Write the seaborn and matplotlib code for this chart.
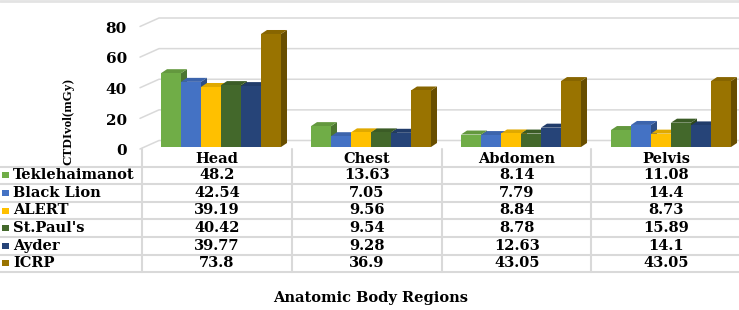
import numpy as np
import pandas as pd
import matplotlib
matplotlib.use("Agg")
import matplotlib.pyplot as plt
import matplotlib.transforms as mtransforms
from matplotlib.patches import Polygon, Rectangle
from matplotlib.lines import Line2D
import seaborn as sns

# --- data ---
regions = ["Head", "Chest", "Abdomen", "Pelvis"]
hospitals = ["Teklehaimanot", "Black Lion", "ALERT", "St.Paul's", "Ayder", "ICRP"]
teklehaimanot = [48.2, 13.63, 8.14, 11.08]
black_lion = [42.54, 7.05, 7.79, 14.4]
alert = [39.19, 9.56, 8.84, 8.73]
st_pauls = [40.42, 9.54, 8.78, 15.89]
ayder = [39.77, 9.28, 12.63, 14.1]
icrp = [73.8, 36.9, 43.05, 43.05]
y_ticks = [0, 20, 40, 60, 80]

colors = ["#70AD47", "#4472C4", "#FFC000", "#43682B", "#264478", "#997300"]
series = [teklehaimanot, black_lion, alert, st_pauls, ayder, icrp]

df = pd.DataFrame(
    [(h, r, v) for h, vals in zip(hospitals, series) for r, v in zip(regions, vals)],
    columns=["hospital", "region", "value"],
)

W, H = 739, 310
GRID = "#d9d9d9"

sns.set_theme(style="white")
plt.rcParams["font.family"] = ["DejaVu Serif"]
plt.rcParams["font.weight"] = "bold"
plt.rcParams["text.color"] = "black"
plt.rcParams["ytick.color"] = "black"
plt.rcParams["ytick.labelcolor"] = "black"
FS = 10.5

fig = plt.figure(figsize=(W / 100, H / 100), dpi=100)


def fx(x):
    return x / W


def fy(y):
    return 1 - y / H


ax = fig.add_axes([fx(146), fy(147), 600 / W, (147 - 24.5) / H])

sns.barplot(
    data=df, x="region", y="value", hue="hospital",
    order=regions, hue_order=hospitals, palette=colors,
    saturation=1, width=0.8, linewidth=0, legend=False, ax=ax,
)
ax.set_xlim(-0.5, 3.5)
ax.set_ylim(0, 80)
for s in ax.spines.values():
    s.set_visible(False)
ax.set_xticks([])
ax.set_xlabel("")
ax.set_ylabel("")
ax.set_yticks(y_ticks)
ax.set_yticklabels([str(t) for t in y_ticks], fontsize=FS + 0.5, fontweight="bold", color="black")
ax.tick_params(axis="y", length=0, pad=13.7)
shift = mtransforms.ScaledTranslation(0, -2 / 72, fig.dpi_scale_trans)
for lab in ax.get_yticklabels():
    lab.set_transform(lab.get_transform() + shift)
ax.grid(False)

inv = ax.transData.inverted()

# 3D-ish gridlines: short slanted floor segment then the back wall line
for v in y_ticks:
    yd = ax.transData.transform((0, v))[1]
    pts = np.array([[140, yd - 2], [159, yd + 6.5], [W + 5, yd + 6.5]])
    d = inv.transform(pts)
    ax.plot(d[:, 0], d[:, 1], color=GRID, lw=1.1, zorder=0.5, clip_on=False)

# depth faces on every bar
dx, dy = 6, 4
bars = sorted([p for p in ax.patches if isinstance(p, Rectangle)], key=lambda p: p.get_x())
for k, p in enumerate(bars):
    z = 3 + k * 0.1
    p.set_zorder(z)
    c = np.array(matplotlib.colors.to_rgb(p.get_facecolor()))
    x0, y0 = p.get_x(), p.get_y()
    x1, y1 = x0 + p.get_width(), y0 + p.get_height()
    (X0, Y0), (X1, Y1) = ax.transData.transform([(x0, y0), (x1, y1)])
    side = inv.transform([(X1, Y0), (X1 + dx, Y0 + dy), (X1 + dx, Y1 + dy), (X1, Y1)])
    top = inv.transform([(X0, Y1), (X0 + dx, Y1 + dy), (X1 + dx, Y1 + dy), (X1, Y1)])
    ax.add_patch(Polygon(side, closed=True, facecolor=c * 0.68, lw=0, zorder=z - 0.05, clip_on=False))
    ax.add_patch(Polygon(top, closed=True, facecolor=c * 0.88, lw=0, zorder=z - 0.05, clip_on=False))

# top border
fig.add_artist(Line2D([0, 1], [fy(1), fy(1)], color="#e3e3e3", lw=2, transform=fig.transFigure))

# --- data table below the bars ---
col_left = [142, 292, 442, 591]
row_line0, row_h = 166.5, 17.6
for x in col_left:
    fig.add_artist(Line2D([fx(x), fx(x)], [fy(149), fy(row_line0 + 6 * row_h)],
                          color=GRID, lw=1.5, transform=fig.transFigure))
for k in range(7):
    y = row_line0 + k * row_h
    fig.add_artist(Line2D([0, 1], [fy(y), fy(y)], color=GRID, lw=1.5, transform=fig.transFigure))

for x, r in zip(col_left, regions):
    fig.text(fx(x + 75), fy(159), r, ha="center", va="center", fontsize=FS, fontweight="bold")

for i, (h, vals, c) in enumerate(zip(hospitals, series, colors)):
    yc = row_line0 + (i + 0.5) * row_h
    fig.add_artist(Rectangle((fx(2), fy(yc + 3)), 7 / W, 6 / H, facecolor=c, lw=0,
                             transform=fig.transFigure))
    fig.text(fx(13), fy(yc), h, ha="left", va="center", fontsize=FS, fontweight="bold")
    for x, v in zip(col_left, vals):
        fig.text(fx(x + 75), fy(yc), f"{v:g}", ha="center", va="center", fontsize=FS, fontweight="bold")

fig.text(fx(68), fy(121), "CTDIvol(mGy)", rotation=90, ha="center", va="center",
         fontsize=9.5, fontweight="bold", family=["Liberation Serif", "DejaVu Serif"])
fig.text(fx(371), fy(298), "Anatomic Body Regions", ha="center", va="center",
         fontsize=FS, fontweight="bold")

fig.savefig("out.png", dpi=100)
